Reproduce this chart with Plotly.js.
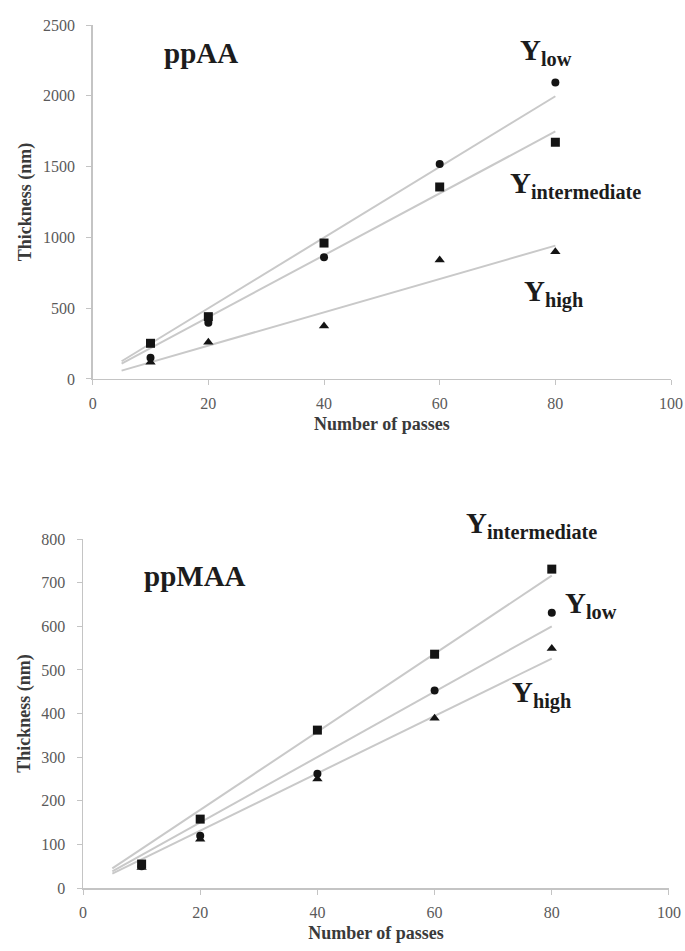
<!DOCTYPE html>
<html>
<head>
<meta charset="utf-8">
<script src="https://cdn.plot.ly/plotly-3.0.1.min.js"></script>
<style>html,body{margin:0;padding:0;background:#fff;}#chart{width:685px;height:951px;}</style>
</head>
<body>
<div id="chart"></div>
<script>
// Number of passes
const passes = [10, 20, 40, 60, 80];
// ppAA thickness (nm)
const ppAA_low = [150, 397, 860, 1518, 2094];
const ppAA_intermediate = [252, 440, 960, 1356, 1672];
const ppAA_high = [118, 260, 375, 840, 898];
// ppMAA thickness (nm)
const ppMAA_intermediate = [55, 158, 362, 536, 731];
const ppMAA_low = [50, 120, 262, 453, 631];
const ppMAA_high = [47, 112, 250, 389, 549];
// fitted trend lines (read endpoints)
const fitX = [5, 80];
const ppAA_fit_low = [125, 1997];
const ppAA_fit_intermediate = [109, 1748];
const ppAA_fit_high = [59, 942];
const ppMAA_fit_intermediate = [45, 716];
const ppMAA_fit_low = [38, 600];
const ppMAA_fit_high = [33, 526];
// axis ticks
const xTicks = [0, 20, 40, 60, 80, 100];
const yTicksTop = [0, 500, 1000, 1500, 2000, 2500];
const yTicksBottom = [0, 100, 200, 300, 400, 500, 600, 700, 800];

const SERIF = 'Liberation Serif, Times New Roman, serif';
const lineStyle = {color: '#c9c9c9', width: 2};
const mk = (sym, size) => ({symbol: sym, size: size, color: '#141414'});

function fit(x, y, xa, ya) {
  return {x: x, y: y, xaxis: xa, yaxis: ya, mode: 'lines', line: lineStyle, hoverinfo: 'skip'};
}
function pts(x, y, xa, ya, sym, size) {
  return {x: x, y: y, xaxis: xa, yaxis: ya, mode: 'markers', marker: mk(sym, size), cliponaxis: false};
}

const data = [
  fit(fitX, ppAA_fit_low, 'x', 'y'),
  fit(fitX, ppAA_fit_intermediate, 'x', 'y'),
  fit(fitX, ppAA_fit_high, 'x', 'y'),
  pts(passes, ppAA_high, 'x', 'y', 'triangle-up', 9),
  pts(passes, ppAA_low, 'x', 'y', 'circle', 8),
  pts(passes, ppAA_intermediate, 'x', 'y', 'square', 9),
  fit(fitX, ppMAA_fit_intermediate, 'x2', 'y2'),
  fit(fitX, ppMAA_fit_low, 'x2', 'y2'),
  fit(fitX, ppMAA_fit_high, 'x2', 'y2'),
  pts(passes, ppMAA_high, 'x2', 'y2', 'triangle-up', 9),
  pts(passes, ppMAA_low, 'x2', 'y2', 'circle', 8),
  pts(passes, ppMAA_intermediate, 'x2', 'y2', 'square', 9)
];

const tickFont = {family: SERIF, size: 16, color: '#5a5a5a'};
const titleFont = {family: SERIF, size: 18, color: '#3a3a3a', weight: 'bold'};
function xAxis(domain, anchor) {
  return {
    domain: domain, anchor: anchor, range: [0, 100], tickvals: xTicks,
    showline: true, linecolor: '#c4c4c4', linewidth: 1.5,
    ticks: 'outside', ticklen: 5, tickcolor: '#c4c4c4', tickwidth: 1,
    showgrid: false, zeroline: false, tickfont: tickFont, ticklabelstandoff: 4,
    title: {text: 'Number of passes', font: titleFont, standoff: 6}
  };
}
function yAxis(domain, anchor, range, ticks) {
  return {
    domain: domain, anchor: anchor, range: range, tickvals: ticks,
    showline: true, linecolor: '#c4c4c4', linewidth: 1.5,
    ticks: 'outside', ticklen: 5, tickcolor: '#c4c4c4', tickwidth: 1,
    showgrid: false, zeroline: false, tickfont: tickFont, ticklabelstandoff: 8,
    title: {text: 'Thickness (nm)', font: titleFont, standoff: 6}
  };
}

const annFont = {family: SERIF, size: 29, color: '#1c1c1c', weight: 'bold'};
function ann(text, x, y, xr, yr) {
  return {text: text, x: x, y: y, xref: xr, yref: yr, showarrow: false,
          xanchor: 'center', yanchor: 'middle', font: annFont};
}

const layout = {
  width: 685, height: 951,
  margin: {l: 0, r: 0, t: 0, b: 0},
  paper_bgcolor: '#ffffff', plot_bgcolor: '#ffffff',
  showlegend: false,
  xaxis: xAxis([0.1353, 0.9796], 'y'),
  yaxis: yAxis([0.6015, 0.9737], 'x', [0, 2500], yTicksTop),
  xaxis2: xAxis([0.1212, 0.9766], 'y2'),
  yaxis2: yAxis([0.0662, 0.4332], 'x2', [0, 800], yTicksBottom),
  annotations: [
    ann('ppAA', 18.7, 2300, 'x', 'y'),
    ann('Y<sub>low</sub>', 78.3, 2310, 'x', 'y'),
    ann('Y<sub>intermediate</sub>', 83.4, 1370, 'x', 'y'),
    ann('Y<sub>high</sub>', 79.6, 607, 'x', 'y'),
    ann('ppMAA', 19.1, 715, 'x2', 'y2'),
    ann('Y<sub>intermediate</sub>', 0.7765, 0.4479, 'paper', 'paper'),
    ann('Y<sub>low</sub>', 86.7, 649, 'x2', 'y2'),
    ann('Y<sub>high</sub>', 78.3, 443, 'x2', 'y2')
  ]
};

Plotly.newPlot('chart', data, layout, {displayModeBar: false, staticPlot: true});
</script>
</body>
</html>
